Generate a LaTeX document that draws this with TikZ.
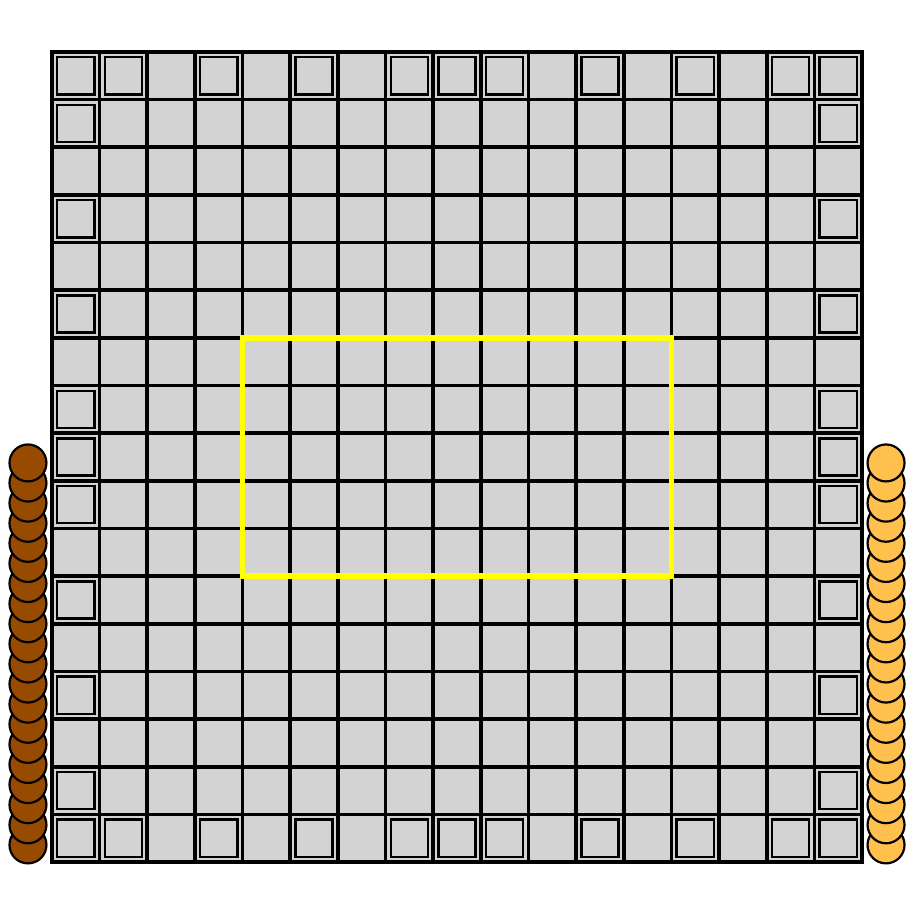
\documentclass[tikz,border=0pt]{standalone}
\usepackage{xcolor}
\usepackage{tikz}
\definecolor{cellgray}{HTML}{D3D3D3}
\definecolor{padbrown}{HTML}{964B00}
\definecolor{padgold}{HTML}{FFC04D}
\definecolor{zoneyellow}{HTML}{FFFF00}

\begin{document}
\begin{tikzpicture}[x=1cm, y=1cm]
  \useasboundingbox (-1.091,-1.091) rectangle (18.091,18.091);
  % cells
  \foreach \c in {0,...,16} {
    \foreach \r in {0,...,16} {
      \draw[black, line width=2.2pt, fill=cellgray] (\c,\r) rectangle ++(1,1);
    }
  }
  % border sites
  \foreach \k in {0,1,3,5,7,8,9,11,13,15,16} {
    \draw[black, line width=1.5pt] (\k+0.11,16.11) rectangle ++(0.78,0.78);
    \draw[black, line width=1.5pt] (\k+0.11,0.11) rectangle ++(0.78,0.78);
    \draw[black, line width=1.5pt] (0.11,\k+0.11) rectangle ++(0.78,0.78);
    \draw[black, line width=1.5pt] (16.11,\k+0.11) rectangle ++(0.78,0.78);
  }
  % window
  \draw[zoneyellow, line width=3.4pt] (4,6) rectangle (13,11);
  % side reservoirs
  \foreach \i in {19,...,0} {
    \draw[black, line width=1.3pt, fill=padbrown] (-0.504,8.375-\i*0.4219) circle (0.388);
    \draw[black, line width=1.3pt, fill=padgold] (17.504,8.375-\i*0.4219) circle (0.388);
  }
\end{tikzpicture}
\end{document}
